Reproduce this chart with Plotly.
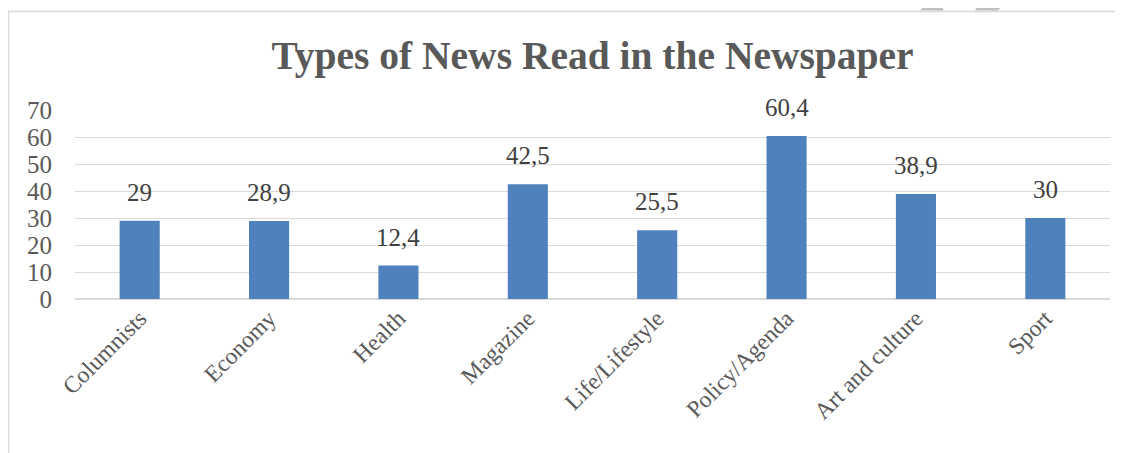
import plotly.graph_objects as go

categories = ["Columnists", "Economy", "Health", "Magazine", "Life/Lifestyle",
              "Policy/Agenda", "Art and culture", "Sport"]
values = [29, 28.9, 12.4, 42.5, 25.5, 60.4, 38.9, 30]
y_ticks = [0, 10, 20, 30, 40, 50, 60, 70]
title_text = "Types of News Read in the Newspaper"

labels = [f"{v:g}".replace(".", ",") for v in values]

# page body has an 8px margin; figure sized so it fills the window
W, H = 1115, 445
ML, MR, MT, MB = 67, 13, 102, 154
PW, PH = W - ML - MR, H - MT - MB

def px(x):
    return (x - ML) / PW

def py(y):
    return (H - MB - y) / PH

FONT = "Liberation Serif"

fig = go.Figure(go.Bar(
    x=categories, y=values,
    marker=dict(color="#4F81BD", line=dict(width=0)),
    width=0.31,
    hoverinfo="x+y",
))

annotations = [
    dict(x=c, y=v, xref="x", yref="y", text=t, showarrow=False,
         yanchor="bottom", yshift=13,
         font=dict(family=FONT, size=25, color="#404040"))
    for c, v, t in zip(categories, values, labels)
]

shapes = [
    # chart frame
    dict(type="line", xref="paper", yref="paper", x0=px(0.5), x1=px(0.5), y0=py(3.5), y1=py(H + 5),
         line=dict(color="#D9D9D9", width=1.5)),
    dict(type="line", xref="paper", yref="paper", x0=px(0), x1=px(W + 5), y0=py(3.5), y1=py(3.5),
         line=dict(color="#D9D9D9", width=1.5)),
    # watermark fragments
    dict(type="path", xref="paper", yref="paper",
         path=f"M {px(922)} {py(-10)} L {px(929)} {py(-10)} L {px(936)} {py(2.5)} L {px(912)} {py(2.5)} Z",
         fillcolor="#C0C0C0", line=dict(width=0)),
    dict(type="path", xref="paper", yref="paper",
         path=f"M {px(974)} {py(-10)} L {px(1001)} {py(-10)} L {px(990)} {py(2.5)} L {px(967)} {py(2.5)} Z",
         fillcolor="#C0C0C0", line=dict(width=0)),
]

fig.update_layout(
    width=W, height=H,
    margin=dict(l=ML, r=MR, t=MT, b=MB, autoexpand=False),
    paper_bgcolor="white", plot_bgcolor="white",
    title=dict(text=f"<b>{title_text}</b>", x=0.5, xanchor="center", xref="paper",
               y=1 - 47 / H, yanchor="middle",
               font=dict(family=FONT, size=39.5, color="#595959")),
    showlegend=False,
    shapes=shapes,
    annotations=annotations,
    xaxis=dict(tickangle=-45, showgrid=False, showline=False, ticks="",
               tickfont=dict(family=FONT, size=23.5, color="#595959"),
               range=[-0.5, len(categories) - 0.5], automargin=False),
    yaxis=dict(range=[0, 70], tickvals=y_ticks, showgrid=True, gridcolor="#D9D9D9", gridwidth=1,
               zeroline=True, zerolinecolor="#D9D9D9", zerolinewidth=1.5,
               showline=False, ticks="", ticklabelstandoff=22, automargin=False,
               tickfont=dict(family=FONT, size=25, color="#595959")),
)

fig.write_html("out.html")
